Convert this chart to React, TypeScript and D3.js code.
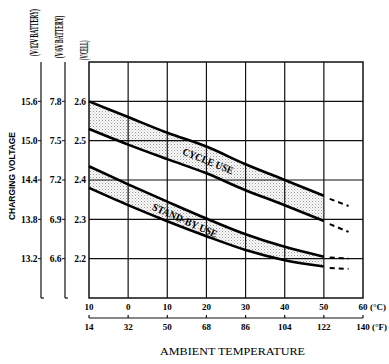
import React from "react";
import * as d3 from "d3";

const temps = [-10, 0, 10, 20, 30, 40, 50];
const cycleUpper = [2.6, 2.56, 2.52, 2.485, 2.44, 2.4, 2.36];
const cycleLower = [2.53, 2.49, 2.453, 2.417, 2.374, 2.336, 2.296];
const standbyUpper = [2.435, 2.389, 2.345, 2.302, 2.262, 2.23, 2.205];
const standbyLower = [2.38, 2.336, 2.295, 2.257, 2.222, 2.196, 2.18];
// dashed continuation beyond 50 °C
const extTemps = [51.5, 56.3];
const cycleUpperExt = [2.352, 2.334];
const cycleLowerExt = [2.288, 2.268];
const standbyUpperExt = [2.203, 2.2];
const standbyLowerExt = [2.176, 2.174];

const cTicks = [-10, 0, 10, 20, 30, 40, 50, 60];
const cLabels = ["10", "0", "10", "20", "30", "40", "50", "60"];
const fLabels = ["14", "32", "50", "68", "86", "104", "122", "140"];
const cellTicks = [2.6, 2.5, 2.4, 2.3, 2.2];
const cellLabels = ["2.6", "2.5", "2.4", "2.3", "2.2"];
const v6Labels = ["7.8", "7.5", "7.2", "6.9", "6.6"];
const v12Labels = ["15.6", "15.0", "14.4", "13.8", "13.2"];

export default function App() {
  const x = d3.scaleLinear().domain([-10, 60]).range([89, 363]);
  const y = d3.scaleLinear().domain([2.1, 2.7]).range([298, 62]);
  const serif = "'Liberation Serif', 'DejaVu Serif', serif";
  const sans = "'Liberation Sans', Arial, sans-serif";

  const line = d3
    .line<[number, number]>()
    .x((d) => x(d[0]))
    .y((d) => y(d[1]))
    .curve(d3.curveMonotoneX);
  const area = d3
    .area<[number, number, number]>()
    .x((d) => x(d[0]))
    .y0((d) => y(d[1]))
    .y1((d) => y(d[2]))
    .curve(d3.curveMonotoneX);

  const pts = (vals: number[], ts = temps) => ts.map((t, i) => [t, vals[i]] as [number, number]);
  const band = (lo: number[], hi: number[]) =>
    temps.map((t, i) => [t, lo[i], hi[i]] as [number, number, number]);

  const yTop = y(2.7);
  const yBot = y(2.1);

  return (
    <svg width={389} height={364} style={{ position: "absolute", left: 0, top: 0 }}>
      <defs>
        <pattern id="stip" width={3} height={3} patternUnits="userSpaceOnUse">
          <rect width={3} height={3} fill="#fafafa" />
          <rect x={0} y={0} width={1} height={1} fill="#9a9a9a" />
          <rect x={1.5} y={1.5} width={1} height={1} fill="#bbb" />
        </pattern>
      </defs>

      {/* bands */}
      <path d={area(band(cycleLower, cycleUpper)) || ""} fill="url(#stip)" />
      <path d={area(band(standbyLower, standbyUpper)) || ""} fill="url(#stip)" />

      {/* grid */}
      {cellTicks.map((v) => (
        <line key={"h" + v} x1={x(-10)} x2={x(60)} y1={y(v)} y2={y(v)} stroke="#111" strokeWidth={1.2} />
      ))}
      {cTicks.slice(1, -1).map((t) => (
        <line key={"v" + t} x1={x(t)} x2={x(t)} y1={yTop} y2={yBot} stroke="#111" strokeWidth={1.2} />
      ))}
      <rect x={x(-10)} y={yTop} width={x(60) - x(-10)} height={yBot - yTop} fill="none" stroke="#111" strokeWidth={1.5} />

      {/* curves */}
      {[cycleUpper, cycleLower, standbyUpper, standbyLower].map((v, i) => (
        <path key={"c" + i} d={line(pts(v)) || ""} fill="none" stroke="#000" strokeWidth={2.6} />
      ))}
      {[cycleUpperExt, cycleLowerExt, standbyUpperExt, standbyLowerExt].map((v, i) => (
        <path
          key={"e" + i}
          d={line(pts(v, extTemps)) || ""}
          fill="none"
          stroke="#000"
          strokeWidth={2}
          strokeDasharray="5,4"
        />
      ))}

      {/* band labels */}
      <text
        transform={`translate(208,161) rotate(22)`}
        textAnchor="middle"
        dominantBaseline="central"
        fontFamily={serif}
        fontWeight="bold"
        fontSize={10.5}
        textLength={54}
        lengthAdjust="spacingAndGlyphs"
      >
        CYCLE USE
      </text>
      <text
        transform={`translate(185,220.5) rotate(24)`}
        textAnchor="middle"
        dominantBaseline="central"
        fontFamily={serif}
        fontWeight="bold"
        fontSize={10.5}
        textLength={70}
        lengthAdjust="spacingAndGlyphs"
      >
        STAND-BY USE
      </text>

      {/* left axes */}
      {[41, 65].map((ax) => (
        <g key={"ax" + ax}>
          <line x1={ax} x2={ax} y1={yTop} y2={yBot} stroke="#111" strokeWidth={1.2} />
          <line x1={ax} x2={ax + 3} y1={yBot} y2={yBot} stroke="#111" strokeWidth={1.2} />
        </g>
      ))}
      {cellTicks.map((v, i) => (
        <g key={"yt" + v}>
          <line x1={38} x2={41} y1={y(v)} y2={y(v)} stroke="#111" strokeWidth={1} />
          <line x1={62} x2={65} y1={y(v)} y2={y(v)} stroke="#111" strokeWidth={1} />
          <text x={37.5} y={y(v)} dy="0.35em" textAnchor="end" fontFamily={serif} fontWeight="bold" fontSize={9.5}>
            {v12Labels[i]}
          </text>
          <text x={61.5} y={y(v)} dy="0.35em" textAnchor="end" fontFamily={serif} fontWeight="bold" fontSize={9.5}>
            {v6Labels[i]}
          </text>
          <text x={86} y={y(v)} dy="0.35em" textAnchor="end" fontFamily={serif} fontWeight="bold" fontSize={9.5}>
            {cellLabels[i]}
          </text>
        </g>
      ))}

      {/* left axis titles (condensed) */}
      <text
        transform="translate(37.5,56) rotate(-90) scale(0.47,1)"
        fontFamily={serif}
        fontWeight="bold"
        fontSize={12}
      >
        (V/12V BATTERY)
      </text>
      <text
        transform="translate(62.5,58) rotate(-90) scale(0.45,1)"
        fontFamily={serif}
        fontWeight="bold"
        fontSize={12}
      >
        (V/6V BATTERY)
      </text>
      <text
        transform="translate(88,60) rotate(-90) scale(0.37,1)"
        fontFamily={serif}
        fontWeight="bold"
        fontSize={12}
      >
        (V/CELL)
      </text>
      <text
        transform="translate(15,176) rotate(-90)"
        textAnchor="middle"
        fontFamily={sans}
        fontWeight="bold"
        fontSize={9}
        textLength={88}
        lengthAdjust="spacingAndGlyphs"
      >
        CHARGING VOLTAGE
      </text>

      {/* bottom axes */}
      {cTicks.map((t, i) => (
        <text
          key={"cl" + t}
          x={x(t)}
          y={306.5}
          dy="0.35em"
          textAnchor="middle"
          fontFamily={serif}
          fontWeight="bold"
          fontSize={9}
        >
          {cLabels[i]}
        </text>
      ))}
      <text x={370} y={306.5} dy="0.35em" fontFamily={serif} fontWeight="bold" fontSize={9}>
        (°C)
      </text>
      <line x1={x(-10)} x2={x(60)} y1={318} y2={318} stroke="#111" strokeWidth={1.2} />
      {cTicks.map((t, i) => (
        <g key={"fl" + t}>
          <line x1={x(t)} x2={x(t)} y1={315} y2={318} stroke="#111" strokeWidth={1.2} />
          <text
            x={x(t)}
            y={327}
            dy="0.35em"
            textAnchor="middle"
            fontFamily={serif}
            fontWeight="bold"
            fontSize={9}
          >
            {fLabels[i]}
          </text>
        </g>
      ))}
      <text x={372} y={327} dy="0.35em" fontFamily={serif} fontWeight="bold" fontSize={9}>
        (°F)
      </text>

      <text x={232.5} y={355} textAnchor="middle" fontFamily={serif} fontSize={11} textLength={145} lengthAdjust="spacingAndGlyphs">
        AMBIENT TEMPERATURE
      </text>
    </svg>
  );
}
